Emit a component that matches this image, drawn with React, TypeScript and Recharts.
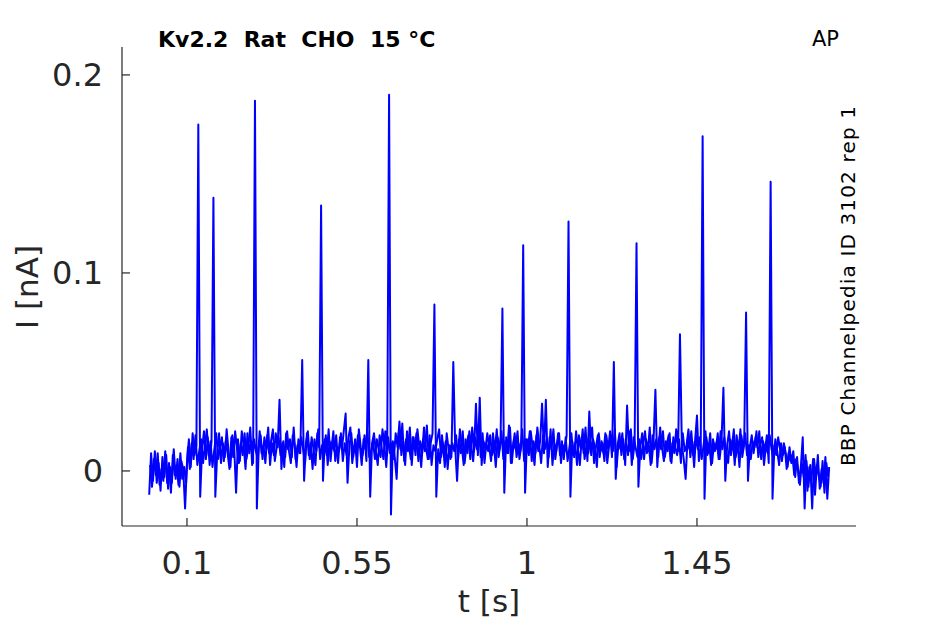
import React from 'react';
import { LineChart, Line, XAxis, YAxis } from 'recharts';

const sampleStep = 0.005;

const currentEarly = [
  -0.012, 0.009, -0.005, 0.010, -0.006, 0.004, -0.010, 0.007, -0.003, 0.008, -0.009, 0.002, -0.006, 0.011, -0.004, 0.006, -0.008, 0.005, 0.001, -0.019,
  0.004, 0.016, 0.002, 0.019, 0.008, 0.013, 0.175, -0.013, 0.011, 0.020, 0.006, 0.017, 0.003, 0.015, 0.138, -0.013, 0.009, 0.019, 0.004, 0.014,
  0.007, 0.021, 0.010, 0.002, 0.018, 0.012, -0.011, 0.016, 0.005, 0.020, 0.013, 0.001, 0.019, 0.009, 0.015, 0.004, 0.187, -0.019, 0.012, 0.018,
  0.006, 0.017, 0.011, 0.022, 0.003, 0.014, 0.008, 0.019, 0.012, 0.036, 0.001, 0.015, 0.007, 0.020, 0.010, 0.004, 0.018, 0.013, 0.002, 0.016,
  0.009, 0.056, -0.005, 0.014, 0.020, 0.006, 0.017, 0.011, 0.003, 0.019, 0.012, 0.134, -0.005, 0.016, 0.008, 0.021, 0.005, 0.015, 0.010, 0.018,
  0.004, 0.017, 0.011, 0.020, 0.029, -0.006, 0.013, 0.019, 0.007, 0.016, 0.002, 0.021, 0.012, 0.008, 0.018, 0.005, 0.056, -0.013, 0.014, 0.019,
];

const currentMid = [
  0.010, 0.003, 0.018, 0.012, 0.006, 0.020, 0.009, 0.190, -0.022, 0.015, 0.007, -0.004, 0.019, 0.011, 0.024, 0.005, 0.016, 0.010, 0.022, 0.003,
  0.017, 0.008, 0.021, 0.012, 0.002, 0.016, 0.010, 0.023, 0.006, 0.014, 0.019, 0.084, -0.013, 0.011, 0.004, 0.018, 0.009, 0.015, 0.001, 0.013,
  0.007, 0.055, 0.012, -0.005, 0.016, 0.009, 0.020, 0.004, 0.013, 0.018, 0.006, 0.022, 0.010, 0.034, 0.008, 0.037, 0.003, 0.015, 0.011, 0.019,
  0.012, 0.005, 0.019, 0.010, 0.021, 0.007, 0.014, 0.082, -0.011, 0.017, 0.009, 0.022, 0.004, 0.015, 0.011, 0.020, 0.006, 0.013, 0.114, -0.011,
  0.016, 0.008, 0.020, 0.012, 0.003, 0.018, 0.010, 0.015, 0.034, 0.009, 0.036, 0.002, 0.017, 0.011, 0.021, 0.006, 0.014, 0.019, 0.004, 0.013,
  0.010, 0.018, 0.126, -0.013, 0.015, 0.007, 0.020, 0.011, 0.003, 0.017, 0.009, 0.022, 0.005, 0.030, 0.008, 0.016, 0.012, 0.002, 0.019, 0.010,
];

const currentLate = [
  0.014, 0.005, 0.018, 0.011, 0.020, 0.007, 0.055, -0.004, 0.013, 0.019, 0.008, 0.016, 0.003, 0.033, 0.010, 0.021, 0.006, 0.014, 0.115, -0.008,
  0.012, 0.019, 0.006, 0.016, 0.010, 0.022, 0.004, 0.015, 0.041, 0.002, 0.017, 0.011, 0.020, 0.007, 0.013, 0.018, 0.005, 0.014, 0.009, 0.021,
  0.010, 0.069, 0.013, 0.006, -0.004, 0.016, 0.011, 0.020, 0.008, 0.015, 0.028, 0.005, 0.012, 0.169, -0.014, 0.017, 0.009, 0.019, 0.004, 0.014,
  0.011, 0.019, 0.006, 0.015, 0.042, -0.005, 0.013, 0.020, 0.008, 0.016, 0.003, 0.018, 0.010, 0.021, 0.007, 0.014, 0.080, -0.005, 0.012, 0.018,
  0.009, 0.017, 0.012, 0.020, 0.006, 0.015, 0.010, 0.018, 0.004, 0.146, -0.014, 0.013, 0.008, 0.017, 0.011, 0.005, 0.014, 0.009, 0.002, 0.012,
  0.004, 0.010, -0.003, 0.007, -0.006, 0.002, 0.017, -0.019, 0.005, -0.008, 0.003, -0.019, 0.006, -0.004, 0.008, -0.009, 0.001, -0.006, 0.007, -0.014,
  0.002,
];

// second sweep, offset by half a sample, fills the noise band
const sweepOffset = 0.0025;
const currentSweep2 = [
  0.003, -0.008, 0.006, -0.002, 0.009, -0.007, 0.001, -0.005, 0.010, -0.006, 0.004, -0.011, 0.008, -0.002, 0.003, -0.007, 0.009, -0.004, 0.002, -0.006,
  0.012, 0.001, 0.014, 0.006, 0.018, 0.003, 0.010, 0.016, 0.004, 0.013, 0.021, 0.008, 0.015, 0.002, 0.011, 0.019, 0.006, 0.012, 0.017, 0.005,
  0.015, 0.009, 0.001, 0.017, 0.007, 0.020, 0.011, 0.004, 0.014, 0.008, 0.019, 0.006, 0.012, 0.022, 0.003, 0.016, 0.010, 0.006, 0.020, 0.009,
  0.013, 0.004, 0.018, 0.009, 0.015, 0.021, 0.005, 0.012, 0.017, 0.008, 0.014, 0.002, 0.019, 0.011, 0.016, 0.007, 0.022, 0.006, 0.013, 0.009,
  0.017, 0.011, 0.004, 0.019, 0.008, 0.014, 0.001, 0.016, 0.010, 0.021, 0.006, 0.013, 0.009, 0.018, 0.003, 0.015, 0.011, 0.020, 0.005, 0.012,
  0.010, 0.019, 0.005, 0.014, 0.008, 0.017, 0.022, 0.004, 0.012, 0.009, 0.018, 0.013, 0.003, 0.016, 0.011, 0.020, 0.007, 0.010, 0.015, 0.006,
  0.016, 0.011, 0.007, 0.021, 0.013, 0.002, 0.017, 0.009, 0.014, 0.006, 0.019, 0.012, 0.025, 0.008, 0.015, 0.003, 0.020, 0.013, 0.006, 0.017,
  0.011, 0.019, 0.005, 0.015, 0.009, 0.022, 0.012, 0.006, 0.018, 0.003, 0.013, 0.010, 0.016, 0.021, 0.007, 0.014, 0.002, 0.019, 0.011, 0.006,
  0.014, 0.010, 0.018, 0.006, 0.021, 0.012, 0.003, 0.016, 0.009, 0.020, 0.013, 0.005, 0.017, 0.011, 0.024, 0.007, 0.019, 0.004, 0.014, 0.010,
  0.018, 0.008, 0.013, 0.002, 0.017, 0.011, 0.020, 0.006, 0.015, 0.009, 0.023, 0.004, 0.012, 0.019, 0.007, 0.014, 0.010, 0.021, 0.005, 0.016,
  0.011, 0.020, 0.005, 0.015, 0.009, 0.022, 0.013, 0.004, 0.018, 0.011, 0.016, 0.007, 0.021, 0.003, 0.014, 0.010, 0.019, 0.008, 0.015, 0.006,
  0.017, 0.005, 0.012, 0.019, 0.008, 0.014, 0.003, 0.018, 0.011, 0.021, 0.006, 0.013, 0.009, 0.016, 0.022, 0.004, 0.012, 0.018, 0.007, 0.015,
  0.009, 0.019, 0.004, 0.013, 0.016, 0.010, 0.021, 0.002, 0.015, 0.011, 0.019, 0.006, 0.014, 0.008, 0.020, 0.003, 0.017, 0.012, 0.007, 0.016,
  0.006, 0.014, 0.020, 0.009, 0.013, 0.003, 0.018, 0.011, 0.016, 0.007, 0.022, 0.012, 0.005, 0.015, 0.010, 0.019, 0.004, 0.017, 0.012, 0.008,
  0.016, 0.004, 0.019, 0.010, 0.013, 0.021, 0.007, 0.015, 0.002, 0.018, 0.011, 0.017, 0.006, 0.013, 0.020, 0.008, 0.014, 0.003, 0.016, 0.010,
  0.015, 0.006, 0.020, 0.011, 0.017, 0.009, 0.004, 0.016, 0.012, 0.021, 0.007, 0.014, 0.002, 0.018, 0.011, 0.019, 0.008, 0.013, 0.006, 0.015,
  0.012, 0.020, 0.007, 0.014, 0.017, 0.003, 0.013, 0.009, 0.018, 0.011, 0.006, 0.016, 0.010, 0.003, 0.014, 0.008, 0.012, 0.001, 0.009, 0.005,
  0.008, -0.002, 0.006, 0.001, -0.007, 0.004, -0.003, 0.008, -0.010, 0.002, -0.005, 0.006, -0.012, 0.003, -0.002, -0.008, 0.005, -0.011, 0.004, -0.003,
];

const xTicks = [0.1, 0.55, 1, 1.45];
const yTicks = [0, 0.1, 0.2];

const sweep1 = [...currentEarly, ...currentMid, ...currentLate].map((v, i) => ({
  t: i * sampleStep,
  I: v,
}));
const sweep2 = currentSweep2.map((v, i) => ({ t: sweepOffset + i * sampleStep, I: v }));

const axisColor = '#262626';
const traceColor = '#0000ff';
const font = 'DejaVu Sans, sans-serif';

export default function App() {
  return (
    <div style={{ position: 'absolute', left: 0, top: 0, width: 945, height: 624, background: '#fff' }}>
      <LineChart width={945} height={624} margin={{ top: 47, right: 89, bottom: 0, left: 0 }}>
        <XAxis
          type="number"
          dataKey="t"
          domain={[-0.072, 1.871]}
          ticks={xTicks}
          allowDataOverflow
          height={98}
          stroke={axisColor}
          strokeWidth={1.2}
          tickSize={-8}
          tickMargin={33}
          tick={{ fill: axisColor, fontSize: 32, fontFamily: font }}
        />
        <YAxis
          type="number"
          dataKey="I"
          domain={[-0.0278, 0.2141]}
          ticks={yTicks}
          allowDataOverflow
          width={122}
          stroke={axisColor}
          strokeWidth={1.2}
          tickSize={-8}
          tickMargin={27}
          tick={{ fill: axisColor, fontSize: 32, fontFamily: font }}
        />
        <Line
          data={sweep2}
          type="linear"
          dataKey="I"
          stroke={traceColor}
          strokeWidth={2}
          strokeLinejoin="round"
          dot={false}
          isAnimationActive={false}
        />
        <Line
          data={sweep1}
          type="linear"
          dataKey="I"
          stroke={traceColor}
          strokeWidth={2}
          strokeLinejoin="round"
          dot={false}
          isAnimationActive={false}
        />
      </LineChart>
      <svg
        width={945}
        height={624}
        style={{ position: 'absolute', left: 0, top: 0, pointerEvents: 'none' }}
      >
        <text x={158} y={47} fontSize={22} fontWeight="bold" fontFamily={font} fill="#000" style={{ whiteSpace: 'pre' }}>
          {'Kv2.2  Rat  CHO  15 °C'}
        </text>
        <text x={812} y={46} fontSize={21} fontFamily={font} fill="#000">
          AP
        </text>
        <text
          x={855}
          y={286}
          fontSize={20}
          fontFamily={font}
          fill="#000"
          textAnchor="middle"
          textLength={360}
          lengthAdjust="spacing"
          transform="rotate(-90 855 286)"
        >
          BBP Channelpedia ID 3102 rep 1
        </text>
        <text
          x={38}
          y={287}
          fontSize={31}
          fontFamily={font}
          fill={axisColor}
          textAnchor="middle"
          transform="rotate(-90 38 287)"
        >
          I [nA]
        </text>
        <text x={489} y={612} fontSize={31} fontFamily={font} fill={axisColor} textAnchor="middle">
          t [s]
        </text>
      </svg>
    </div>
  );
}
